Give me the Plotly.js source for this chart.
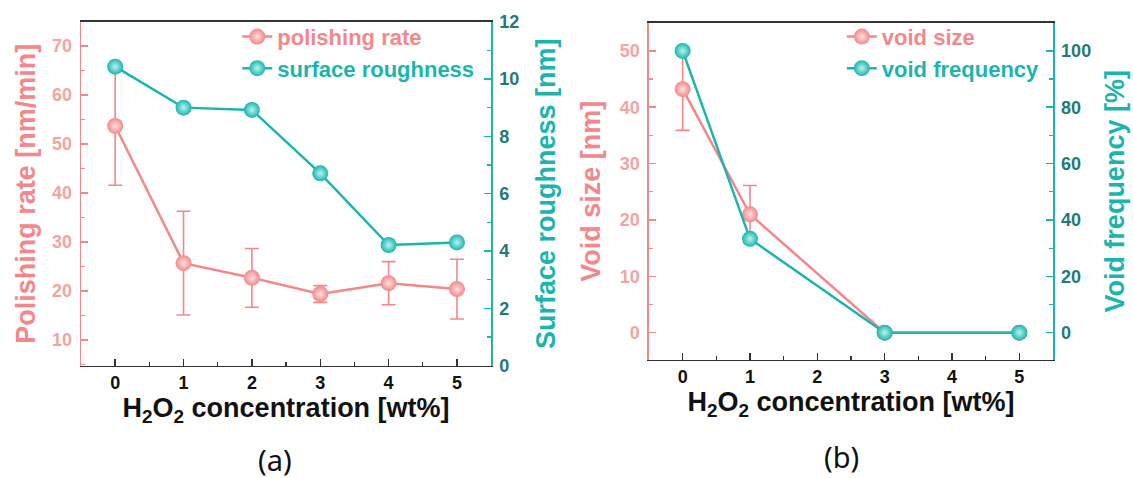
<!DOCTYPE html>
<html>
<head>
<meta charset="utf-8">
<script src="https://cdn.plot.ly/plotly-3.0.1.min.js"></script>
<style>html,body{margin:0;padding:0;background:#fff;}#chart{width:1133px;height:478px;}</style>
</head>
<body>
<div id="chart"></div>
<script>
// ---- data ----
const concA = [0, 1, 2, 3, 4, 5];
const polishingRate = [53.7, 25.7, 22.7, 19.4, 21.6, 20.4];
const polishingErr = [12.1, 10.6, 6.0, 1.7, 4.4, 6.1];
const surfaceRoughness = [10.43, 9.0, 8.92, 6.71, 4.21, 4.30];

const concB = [0, 1, 3, 5];
const voidSize = [43.2, 21.0, 0, 0];
const voidSizeErr = [7.3, 5.1, 0, 0];
const voidFrequency = [100, 33.3, 0, 0];

const xTitle = 'H<sub>2</sub>O<sub>2</sub> concentration [wt%]';

// ---- style ----
const PINK = '#F4878A';
const PINK_TICK = '#F4A3A3';
const TEAL = '#1BB5AE';
const TEAL_TICK = '#1F7B78';
const FONT = 'Liberation Sans, Arial, sans-serif';
const TICK_SIZE = 18;
const TITLE_SIZE = 27;

function markerStyle(c, light) {
  return {size: 16, color: c, gradient: {type: 'radial', color: light}, line: {width: 0}};
}

const traces = [
  {x: concA, y: polishingRate, xaxis: 'x', yaxis: 'y', type: 'scatter', mode: 'lines+markers',
   name: '<span style="color:' + PINK + '">polishing rate</span>', legend: 'legend',
   line: {color: PINK, width: 2.5}, marker: markerStyle(PINK, '#FFE0E0'),
   error_y: {type: 'data', array: polishingErr, visible: true, color: PINK, thickness: 1.6, width: 7}},
  {x: concA, y: surfaceRoughness, xaxis: 'x', yaxis: 'y2', type: 'scatter', mode: 'lines+markers',
   name: '<span style="color:' + TEAL + '">surface roughness</span>', legend: 'legend',
   line: {color: TEAL, width: 2.5}, marker: markerStyle(TEAL, '#B8F4F0')},
  {x: concB, y: voidSize, xaxis: 'x2', yaxis: 'y3', type: 'scatter', mode: 'lines+markers',
   name: '<span style="color:' + PINK + '">void size</span>', legend: 'legend2',
   line: {color: PINK, width: 2.5}, marker: markerStyle(PINK, '#FFE0E0'),
   error_y: {type: 'data', array: voidSizeErr, visible: true, color: PINK, thickness: 1.6, width: 7}},
  {x: concB, y: voidFrequency, xaxis: 'x2', yaxis: 'y4', type: 'scatter', mode: 'lines+markers',
   name: '<span style="color:' + TEAL + '">void frequency</span>', legend: 'legend2',
   line: {color: TEAL, width: 2.5}, marker: markerStyle(TEAL, '#B8F4F0')}
];

function xAxis(domain, anchor) {
  return {
    domain: domain, anchor: anchor, range: [-0.5, 5.5], dtick: 1, tick0: 0,
    showline: true, linecolor: '#333', linewidth: 1.5, mirror: true,
    ticks: 'inside', ticklen: 7, tickwidth: 1.5, tickcolor: '#333',
    minor: {dtick: 0.5, ticks: 'inside', ticklen: 4, tickwidth: 1.2, tickcolor: '#333'},
    showgrid: false, zeroline: false,
    tickfont: {family: FONT, size: TICK_SIZE, color: '#111', weight: 'bold'},
    title: {text: xTitle, standoff: 6, font: {family: FONT, size: TITLE_SIZE, color: '#111', weight: 'bold'}}
  };
}
function yAxis(opts) {
  const base = {
    showline: true, linewidth: 1.5, ticks: 'inside', ticklen: 7, tickwidth: 1.5,
    showgrid: false, zeroline: false, ticklabelstandoff: 4
  };
  return Object.assign(base, opts);
}

const layout = {
  width: 1133, height: 478,
  margin: {l: 0, r: 0, t: 0, b: 0},
  paper_bgcolor: '#fff', plot_bgcolor: '#fff',
  font: {family: FONT},
  xaxis: xAxis([0.0715, 0.4335], 'y'),
  xaxis2: xAxis([0.5728, 0.9294], 'y3'),
  yaxis: yAxis({
    domain: [0.2349, 0.9548], anchor: 'x', side: 'left', range: [4.76, 75.0], dtick: 10, tick0: 0,
    linecolor: PINK, tickcolor: PINK,
    minor: {dtick: 5, ticks: 'inside', ticklen: 4, tickwidth: 1.2, tickcolor: PINK},
    tickfont: {family: FONT, size: TICK_SIZE, color: PINK_TICK, weight: 'bold'},
    title: {text: 'Polishing rate [nm/min]', standoff: 8, font: {family: FONT, size: TITLE_SIZE, color: PINK, weight: 'bold'}}
  }),
  yaxis2: yAxis({
    overlaying: 'y', anchor: 'x', side: 'right', range: [0, 12], dtick: 2, tick0: 0,
    linecolor: TEAL, tickcolor: TEAL, ticklabelstandoff: 3,
    minor: {dtick: 1, ticks: 'inside', ticklen: 4, tickwidth: 1.2, tickcolor: TEAL},
    tickfont: {family: FONT, size: TICK_SIZE, color: TEAL_TICK, weight: 'bold'},
    title: {text: 'Surface roughness [nm]', standoff: 18, font: {family: FONT, size: TITLE_SIZE, color: TEAL, weight: 'bold'}}
  }),
  yaxis3: yAxis({
    domain: [0.2469, 0.9525], anchor: 'x2', side: 'left', range: [-4.85, 55.0], dtick: 10, tick0: 0,
    linecolor: PINK, tickcolor: PINK,
    minor: {dtick: 5, ticks: 'inside', ticklen: 4, tickwidth: 1.2, tickcolor: PINK},
    tickfont: {family: FONT, size: TICK_SIZE, color: PINK_TICK, weight: 'bold'},
    title: {text: 'Void size [nm]', standoff: 11, font: {family: FONT, size: TITLE_SIZE, color: PINK, weight: 'bold'}}
  }),
  yaxis4: yAxis({
    overlaying: 'y3', anchor: 'x2', side: 'right', range: [-9.7, 110], dtick: 20, tick0: 0,
    linecolor: TEAL, tickcolor: TEAL, ticklabelstandoff: 3,
    minor: {dtick: 10, ticks: 'inside', ticklen: 4, tickwidth: 1.2, tickcolor: TEAL},
    tickfont: {family: FONT, size: TICK_SIZE, color: TEAL_TICK, weight: 'bold'},
    title: {text: 'Void frequency [%]', standoff: 15, font: {family: FONT, size: TITLE_SIZE, color: TEAL, weight: 'bold'}}
  }),
  legend: {x: 0.2094, y: 0.967, xanchor: 'left', yanchor: 'top', bgcolor: 'rgba(0,0,0,0)',
           font: {family: FONT, size: 22, weight: 'bold'}, tracegroupgap: 0},
  legend2: {x: 0.743, y: 0.967, xanchor: 'left', yanchor: 'top', bgcolor: 'rgba(0,0,0,0)',
            font: {family: FONT, size: 22, weight: 'bold'}, tracegroupgap: 0},
  annotations: [
    {text: '(a)', x: 0.2427, y: 0.0377, xref: 'paper', yref: 'paper', showarrow: false,
     xanchor: 'center', yanchor: 'middle', font: {family: 'Noto Sans, sans-serif', size: 29, color: '#111'}},
    {text: '(b)', x: 0.7426, y: 0.045, xref: 'paper', yref: 'paper', showarrow: false,
     xanchor: 'center', yanchor: 'middle', font: {family: 'Noto Sans, sans-serif', size: 29, color: '#111'}}
  ],
  showlegend: true
};

Plotly.newPlot('chart', traces, layout, {displayModeBar: false, staticPlot: true});
</script>
</body>
</html>
